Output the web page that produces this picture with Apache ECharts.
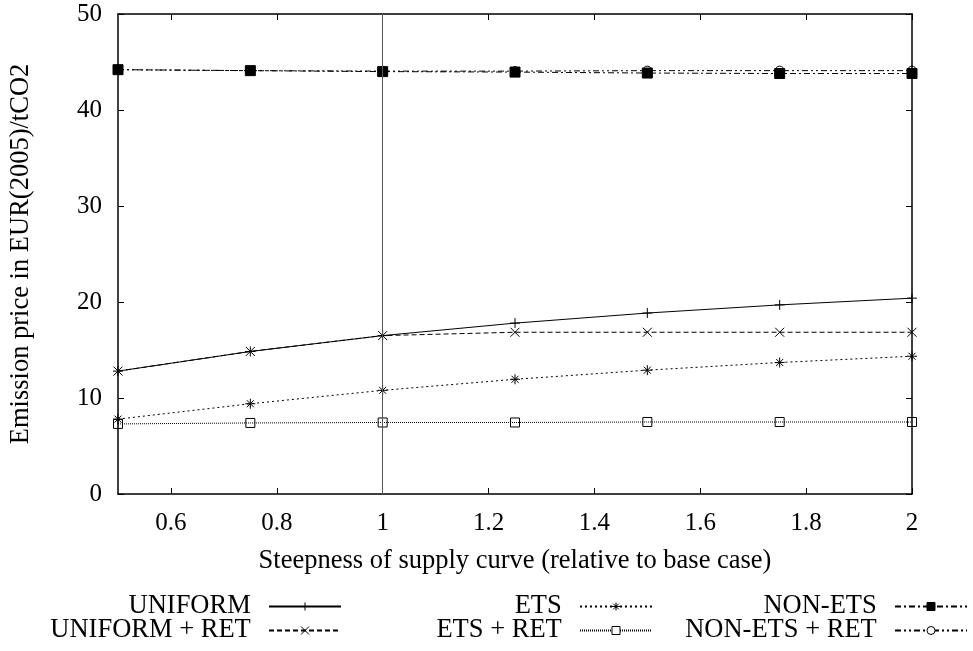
<!DOCTYPE html>
<html>
<head>
<meta charset="utf-8">
<script src="https://cdn.jsdelivr.net/npm/echarts@6/dist/echarts.min.js"></script>
<style>html,body{margin:0;padding:0;background:#fff;}#chart{width:973px;height:651px;}</style>
</head>
<body>
<div id="chart"></div>
<script>
var xValues = [0.5, 0.75, 1, 1.25, 1.5, 1.75, 2];
var uniform = [12.8, 14.85, 16.5, 17.8, 18.85, 19.7, 20.4];
var uniformRet = [12.8, 14.85, 16.5, 16.85, 16.85, 16.85, 16.85];
var ets = [7.8, 9.4, 10.8, 11.95, 12.9, 13.7, 14.35];
var etsRet = [7.3, 7.4, 7.45, 7.45, 7.5, 7.5, 7.5];
var nonEts = [44.2, 44.1, 44.0, 43.95, 43.85, 43.8, 43.8];
var nonEtsRet = [44.2, 44.1, 44.05, 44.05, 44.1, 44.1, 44.1];
var xTicks = [0.6, 0.8, 1, 1.2, 1.4, 1.6, 1.8, 2];
var seriesNames = ['UNIFORM', 'UNIFORM + RET', 'ETS', 'ETS + RET', 'NON-ETS', 'NON-ETS + RET'];
var xTitle = 'Steepness of supply curve (relative to base case)';
var yTitle = 'Emission price in EUR(2005)/tCO2';

var FONT = 'Liberation Serif';
var PLUS = 'path://M0,5L10,5M5,0L5,10';
var CROSS = 'path://M1,1L9,9M9,1L1,9';
var STAR = 'path://M0,5L10,5M5,0L5,10M1.5,1.5L8.5,8.5M8.5,1.5L1.5,8.5';

function pairs(vals) {
  return xValues.map(function (x, i) { return [x, vals[i]]; });
}

var styles = [
  { data: uniform, symbol: PLUS, size: 10, dash: 'solid', fill: 'none' },
  { data: uniformRet, symbol: CROSS, size: 9, dash: [5, 3], fill: 'none' },
  { data: ets, symbol: STAR, size: 10, dash: [2, 3], fill: 'none' },
  { data: etsRet, symbol: 'rect', size: 9, dash: [1, 1], fill: 'none' },
  { data: nonEts, symbol: 'rect', size: 10, dash: [6, 3, 2, 3], fill: '#000' },
  { data: nonEtsRet, symbol: 'circle', size: 9, dash: [6, 3, 2, 3, 2, 3], fill: 'none' }
];

var series = styles.map(function (s, i) {
  var o = {
    name: seriesNames[i],
    type: 'line',
    xAxisIndex: 0,
    yAxisIndex: 0,
    data: pairs(s.data),
    symbol: s.symbol,
    symbolSize: s.size,
    showAllSymbol: true,
    lineStyle: { color: '#000', width: 1, type: s.dash },
    itemStyle: { color: s.fill, borderColor: '#000', borderWidth: 1 },
    emphasis: { disabled: true },
    z: 3
  };
  if (i === 0) {
    o.markLine = {
      silent: true,
      symbol: 'none',
      label: { show: false },
      lineStyle: { color: '#555', width: 1, type: 'solid' },
      data: [{ xAxis: 1 }]
    };
  }
  return o;
});

function legendItem(i) {
  return { name: seriesNames[i], itemStyle: { color: styles[i].fill === 'none' ? '#fff' : styles[i].fill, borderColor: '#000', borderWidth: 1 } };
}

function makeLegend(idx, right) {
  return {
    orient: 'vertical',
    align: 'right',
    right: right,
    top: 593,
    itemWidth: 72,
    itemHeight: 10,
    itemGap: -3,
    padding: 0,
    selectedMode: false,
    formatter: function (n) { return n + '  '; },
    textStyle: { fontFamily: FONT, fontSize: 26.5, color: '#000', lineHeight: 24 },
    data: [legendItem(idx), legendItem(idx + 1)]
  };
}

var chart = echarts.init(document.getElementById('chart'));
chart.setOption({
  animation: false,
  backgroundColor: '#fff',
  textStyle: { fontFamily: FONT },
  grid: { left: 116, right: 61, top: 14, bottom: 157, containLabel: false },
  legend: [makeLegend(0, 631), makeLegend(2, 320), makeLegend(4, 5)],
  xAxis: [{
    type: 'value',
    min: 0.5,
    max: 2,
    position: 'bottom',
    name: xTitle,
    nameLocation: 'middle',
    nameGap: 54,
    nameTextStyle: { fontFamily: FONT, fontSize: 26.5, color: '#000' },
    axisLine: { show: true, onZero: false, lineStyle: { color: '#000', width: 1.5 } },
    axisTick: { show: true, inside: true, length: 6, customValues: xTicks, lineStyle: { color: '#000' } },
    axisLabel: { show: true, customValues: xTicks, margin: 17, fontFamily: FONT, fontSize: 25, color: '#000' },
    splitLine: { show: false }
  }, {
    type: 'value',
    min: 0.5,
    max: 2,
    position: 'top',
    axisLine: { show: true, onZero: false, lineStyle: { color: '#000', width: 1.5 } },
    axisTick: { show: true, inside: true, length: 6, customValues: xTicks, lineStyle: { color: '#000' } },
    axisLabel: { show: false },
    splitLine: { show: false }
  }],
  yAxis: [{
    type: 'value',
    min: 0,
    max: 50,
    interval: 10,
    position: 'left',
    name: yTitle,
    nameLocation: 'middle',
    nameGap: 83,
    nameTextStyle: { fontFamily: FONT, fontSize: 26.5, color: '#000' },
    axisLine: { show: true, onZero: false, lineStyle: { color: '#000', width: 1.5 } },
    axisTick: { show: true, inside: true, length: 6, lineStyle: { color: '#000' } },
    axisLabel: { show: true, margin: 16, fontFamily: FONT, fontSize: 25, color: '#000' },
    splitLine: { show: false }
  }, {
    type: 'value',
    min: 0,
    max: 50,
    interval: 10,
    position: 'right',
    axisLine: { show: true, onZero: false, lineStyle: { color: '#000', width: 1.5 } },
    axisTick: { show: true, inside: true, length: 6, lineStyle: { color: '#000' } },
    axisLabel: { show: false },
    splitLine: { show: false }
  }],
  series: series
});
</script>
</body>
</html>
